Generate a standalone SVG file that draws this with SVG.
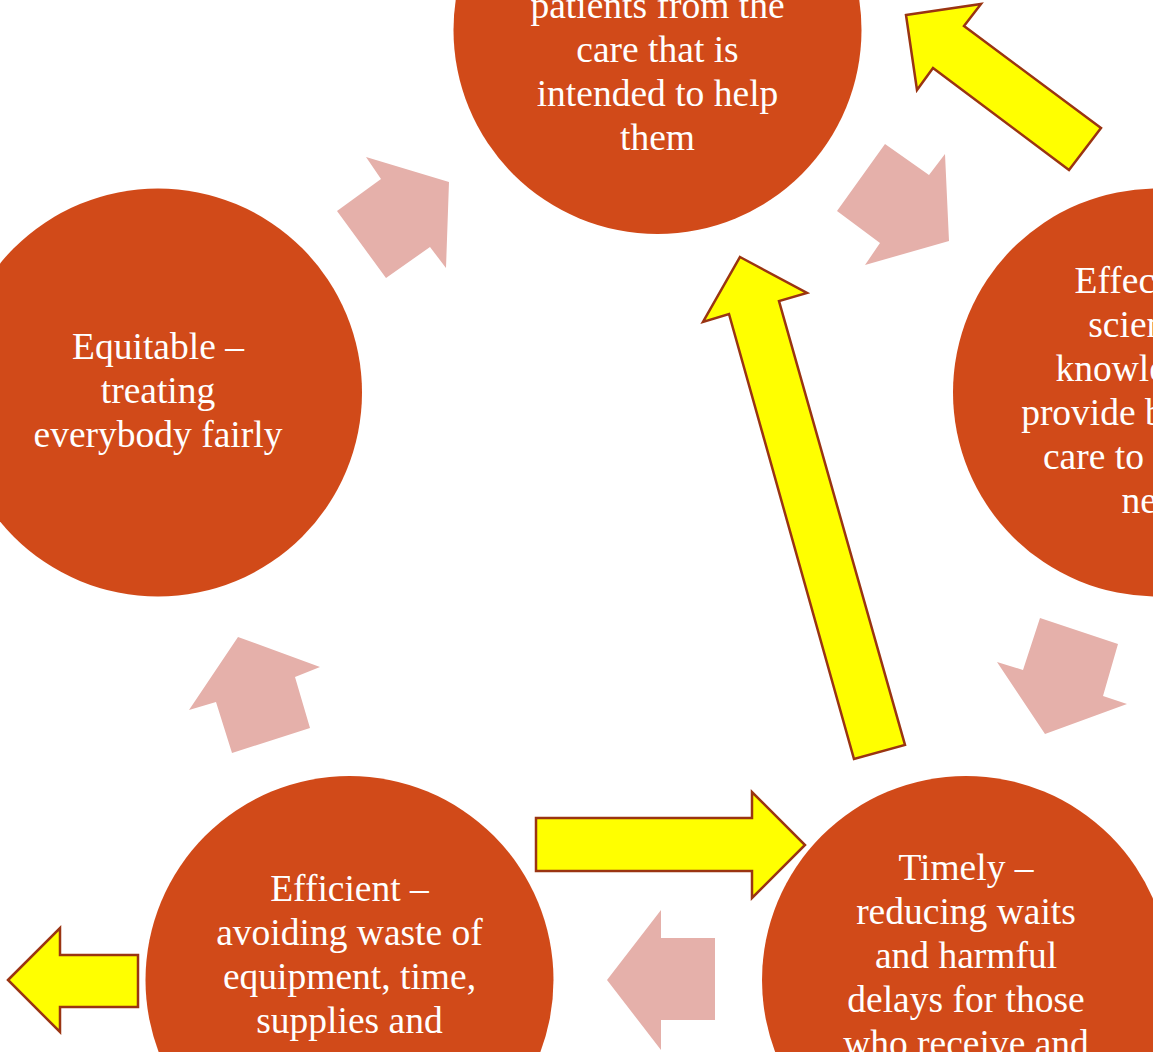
<svg xmlns="http://www.w3.org/2000/svg" width="1153" height="1052" viewBox="0 0 1153 1052">
  <style>
    .node { fill: #D14A19; }
    .label { font-family: "Liberation Serif", "Times New Roman", serif; font-size: 37.5px; fill: #FFFFFF; text-anchor: middle; }
    .cycle { fill: #E5B0AA; }
    .jump { fill: #FFFF00; stroke: #9A3412; stroke-width: 2.5; stroke-linejoin: miter; }
  </style>
  <rect width="1153" height="1052" fill="#FFFFFF"/>

  <!-- cycle arrows and highlighted arrows -->
  <g id="connectors">
    <polygon class="cycle" points="337,211 381,179 366,157 449,182 446,268 430,247 386,278"/>
    <polygon class="cycle" points="885,144 929,175 945,154 949,241 865,265 880,243 837,211"/>
    <polygon class="cycle" points="1040,618 1118,644 1103,696 1127,704 1045,734 997,662 1023,670"/>
    <polygon class="cycle" points="607,980 661,910 661,938 715,938 715,1020 661,1020 661,1050"/>
    <polygon class="cycle" points="238,637 320,667 295,677 310,728 232,753 216,702 189,710"/>

    <polygon class="jump" points="536,818 752,818 752,792 805,845 752,898 752,871 536,871"/>
    <polygon class="jump" points="740,257 807,293 779,301 905,745 854,759 729,314 703,322"/>
    <polygon class="jump" points="906,15 981,4 964,26 1101,128 1069,170 933,68 917,90"/>
    <polygon class="jump" points="8,980 60,928 60,955 138,955 138,1007 60,1007 60,1032"/>
  </g>

  <g id="node-safe">
    <circle class="node" cx="657.5" cy="30" r="204"/>
    <text class="label" x="657.5" y="18">patients from the</text>
    <text class="label" x="657.5" y="62">care that is</text>
    <text class="label" x="657.5" y="106">intended to help</text>
    <text class="label" x="657.5" y="150">them</text>
  </g>

  <g id="node-effective">
    <circle class="node" cx="1157" cy="392.5" r="204"/>
    <text class="label" x="1157" y="293">Effective –</text>
    <text class="label" x="1157" y="337">scientific</text>
    <text class="label" x="1157" y="381">knowledge to</text>
    <text class="label" x="1157" y="425">provide beneficial</text>
    <text class="label" x="1157" y="469">care to those in</text>
    <text class="label" x="1157" y="513">need</text>
  </g>

  <g id="node-timely">
    <circle class="node" cx="966" cy="980" r="204"/>
    <text class="label" x="966" y="880">Timely –</text>
    <text class="label" x="966" y="924">reducing waits</text>
    <text class="label" x="966" y="968">and harmful</text>
    <text class="label" x="966" y="1012">delays for those</text>
    <text class="label" x="966" y="1056">who receive and</text>
  </g>

  <g id="node-efficient">
    <circle class="node" cx="349.5" cy="980" r="204"/>
    <text class="label" x="349.5" y="901">Efficient –</text>
    <text class="label" x="349.5" y="945">avoiding waste of</text>
    <text class="label" x="349.5" y="989">equipment, time,</text>
    <text class="label" x="349.5" y="1033">supplies and</text>
  </g>

  <g id="node-equitable">
    <circle class="node" cx="158" cy="392.5" r="204"/>
    <text class="label" x="158" y="359">Equitable –</text>
    <text class="label" x="158" y="403">treating</text>
    <text class="label" x="158" y="447">everybody fairly</text>
  </g>
</svg>
